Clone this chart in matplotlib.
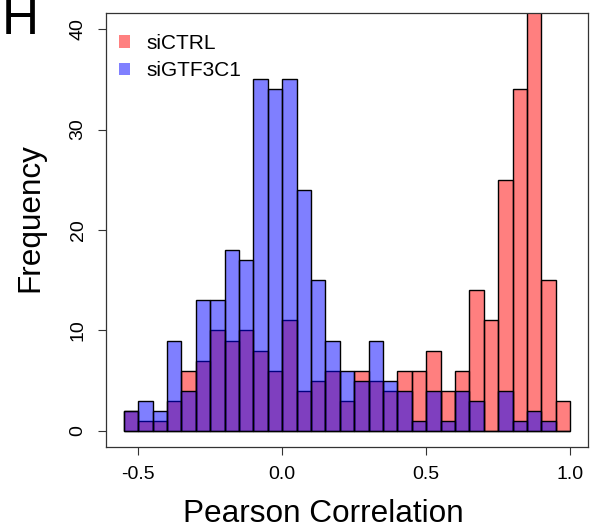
import numpy as np
import matplotlib
matplotlib.use("Agg")
import matplotlib.pyplot as plt
from matplotlib.patches import Patch

plt.rcParams['font.family'] = ['Liberation Sans', 'DejaVu Sans']

# Histogram bins (Pearson correlation, width 0.05)
bin_edges = np.round(np.arange(-0.55, 1.0001, 0.05), 2)

si_ctrl = [2, 1, 1, 3, 6, 7, 10, 9, 10, 8, 6, 11, 4, 5, 6, 3,
           6, 5, 4, 6, 6, 8, 4, 6, 14, 11, 25, 34, 44, 15, 3]
si_gtf3c1 = [2, 3, 2, 9, 4, 13, 13, 18, 17, 35, 34, 35, 24, 15, 9, 6,
             5, 9, 5, 4, 1, 4, 1, 4, 3, 0, 4, 1, 2, 1, 0]

labels = ["siCTRL", "siGTF3C1"]
xticks = [-0.5, 0.0, 0.5, 1.0]
xtick_labels = ["-0.5", "0.0", "0.5", "1.0"]
yticks = [0, 10, 20, 30, 40]

W, H = 590, 529
fig = plt.figure(figsize=(W / 100, H / 100), dpi=100)
ax = fig.add_axes([106 / W, 1 - 447 / H, (588 - 106) / W, (447 - 13) / H])

red = (1, 0, 0, 0.5)
blue = (0, 0, 1, 0.5)
widths = np.diff(bin_edges)
ax.bar(bin_edges[:-1], si_ctrl, width=widths, align='edge',
       color=red, edgecolor='black', linewidth=1.0)
ax.bar(bin_edges[:-1], si_gtf3c1, width=widths, align='edge',
       color=blue, edgecolor='black', linewidth=1.0)

ax.set_xlim(-0.612, 1.062)
ax.set_ylim(-1.6, 41.6)

ax.set_xticks(xticks)
ax.set_xticklabels(xtick_labels)
ax.set_yticks(yticks)
ax.set_yticklabels([str(v) for v in yticks], rotation=90, va='center')
ax.tick_params(axis='both', direction='out', length=6, width=0.8,
               labelsize=14, color='#333333')
ax.tick_params(axis='x', pad=8)
ax.tick_params(axis='y', pad=8)
for s in ax.spines.values():
    s.set_linewidth(0.9)
    s.set_color('#333333')

fig.text(323 / W, 1 - 522 / H, "Pearson Correlation", fontsize=22.7,
         ha='center', va='baseline')
fig.text(30 / W, 1 - 218 / H, "Frequency", fontsize=22.7,
         ha='center', va='center', rotation=90)
fig.text(2 / W, 1 - 34 / H, "H", fontsize=37, ha='left', va='baseline')

handles = [Patch(facecolor='#FF8080', edgecolor='none'),
           Patch(facecolor='#8080FF', edgecolor='none')]
ax.legend(handles, labels, loc='upper left',
          bbox_to_anchor=(119 / W, 1 - 34 / H), bbox_transform=fig.transFigure,
          frameon=False, fontsize=15, handlelength=0.55, handleheight=0.55,
          handletextpad=0.75, labelspacing=0.4, borderpad=0, borderaxespad=0)

fig.savefig("out.png", dpi=100)
